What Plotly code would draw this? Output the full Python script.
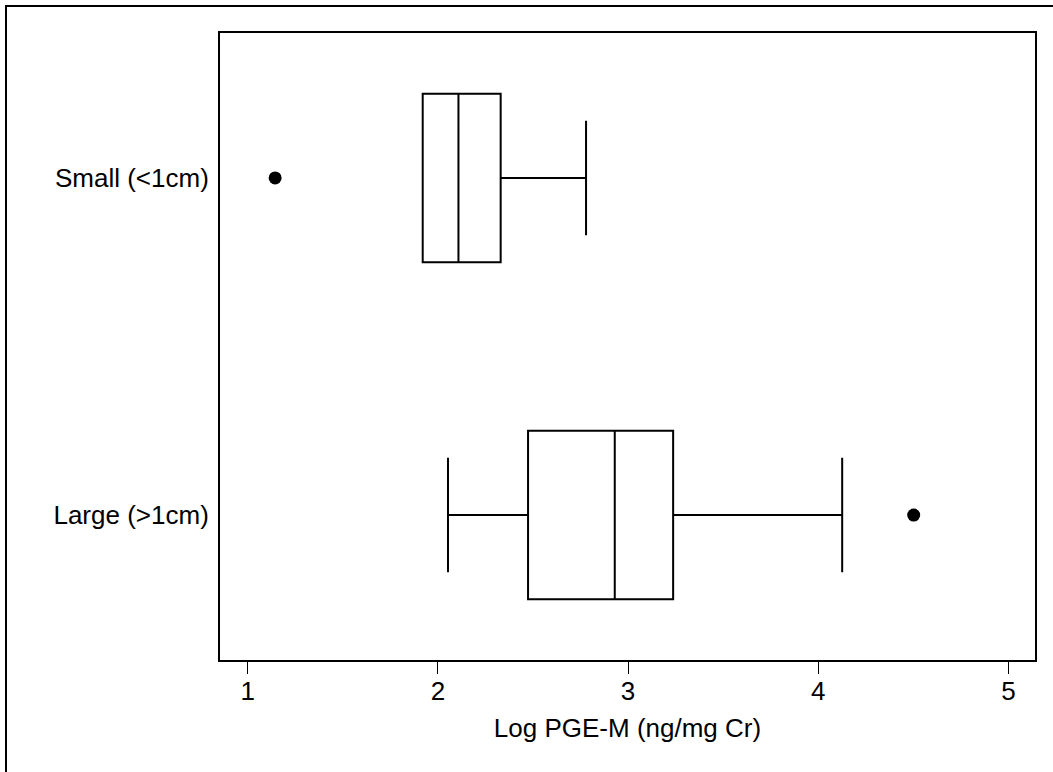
import plotly.graph_objects as go

categories = ["Small (<1cm)", "Large (>1cm)"]
cat_pos = [1, 0]
q1 = [1.92, 2.474]
median = [2.108, 2.930]
q3 = [2.330, 3.237]
lower = [1.92, 2.053]
upper = [2.779, 4.126]
outlier_x = [1.144, 4.502]
outlier_y = [1, 0]
xticks = [1, 2, 3, 4, 5]

W, H = 1053, 772
L, R, T, B = 220, 18, 33, 112
pw, ph = W - L - R, H - T - B

fig = go.Figure()
fig.add_trace(go.Box(
    y=cat_pos, q1=q1, median=median, q3=q3, lowerfence=lower, upperfence=upper,
    orientation="h", width=0.5, whiskerwidth=0.68, boxpoints=False,
    line=dict(color="black", width=2), fillcolor="rgba(255,255,255,0)",
    showlegend=False, hoverinfo="skip",
))
fig.add_trace(go.Scatter(
    x=outlier_x, y=outlier_y, mode="markers",
    marker=dict(color="black", size=13), showlegend=False, hoverinfo="skip",
))
# invisible trace for top axis ticks
fig.add_trace(go.Scatter(x=[1, 5], y=[0, 0], xaxis="x2", mode="markers",
                         marker=dict(opacity=0), showlegend=False, hoverinfo="skip"))

font = dict(family="Liberation Sans, Arial", size=26, color="black")
fig.update_layout(
    width=W, height=H,
    margin=dict(l=L, r=R, t=T, b=B, pad=0),
    paper_bgcolor="white", plot_bgcolor="white",
    font=font,
    xaxis=dict(range=[0.854, 5.140], tickvals=xticks, ticktext=[str(t) for t in xticks],
               ticks="outside", ticklen=12, tickwidth=1, tickcolor="black",
               showline=True, linewidth=2, linecolor="black", mirror=True,
               showgrid=False, zeroline=False, tickfont=font, ticklabelstandoff=-5,
               title=dict(text="Log PGE-M (ng/mg Cr)", font=font, standoff=14)),
    xaxis2=dict(range=[0.854, 5.140], overlaying="x", side="top", tickvals=xticks,
                ticks="inside", ticklen=2, tickwidth=2, tickcolor="white",
                showticklabels=False, showline=False, showgrid=False, zeroline=False),
    yaxis=dict(range=[-0.43, 1.43], tickvals=cat_pos, ticktext=categories,
               ticks="", showline=True, linewidth=2, linecolor="black", mirror=True,
               showgrid=False, zeroline=False, tickfont=font, ticklabelstandoff=4),
    shapes=[dict(type="rect", xref="paper", yref="paper",
                 x0=(6 - L) / pw, x1=(1070 - L) / pw,
                 y0=(H - B - 790) / ph, y1=(H - B - 6) / ph,
                 line=dict(color="black", width=2), fillcolor="rgba(0,0,0,0)",
                 layer="above")],
)
fig.write_html("out.html")
